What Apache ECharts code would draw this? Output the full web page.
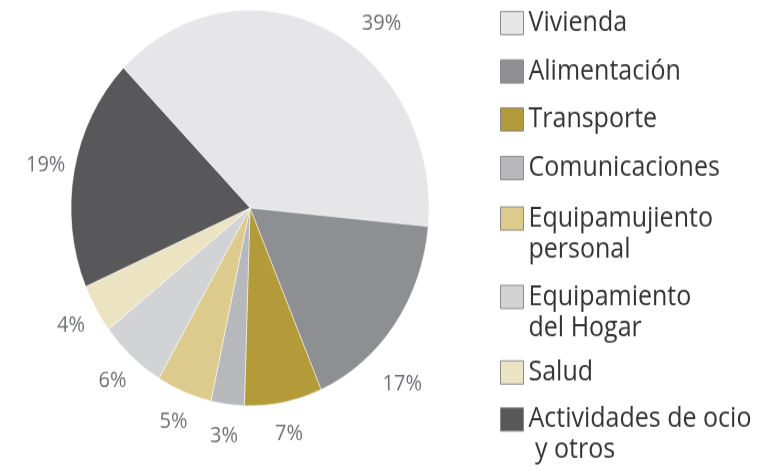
<!DOCTYPE html>
<html>
<head>
<meta charset="utf-8">
<script src="https://cdn.jsdelivr.net/npm/echarts@6/dist/echarts.min.js"></script>
<style>
  html, body { margin: 0; padding: 0; background: #fff; width: 776px; height: 470px; }
  #wrap { width: 776px; height: 470px; position: relative; overflow: hidden; }
  /* the printed chart is stretched vertically, so draw it flat and stretch it */
  #chart { position: absolute; left: 0; top: 0; width: 776px; height: 425px; transform: scaleY(1.10588); transform-origin: 0 0; }
</style>
</head>
<body>
<div id="wrap"><div id="chart"></div></div>
<script>
// gasto por categoría (%)
const categories = [
  'Vivienda',
  'Alimentación',
  'Transporte',
  'Comunicaciones',
  'Equipamujiento\npersonal',
  'Equipamiento\ndel Hogar',
  'Salud',
  'Actividades de ocio\n y otros'
];
const shares = [39, 17, 7, 3, 5, 6, 4, 19];
const colors = ['#e6e6e8', '#8e8f93', '#b39b3a', '#b7b8bc', '#dccb8c', '#d2d3d5', '#ece3c3', '#58585a'];

// legend: y of each icon centre (unscaled px)
const legendIconY = [20.8, 64.6, 108, 151.9, 197.6, 268.5, 336.8, 379.3];
const lineH = 28;
// the two big labels sit off the radial line in the print
const labelNudge = { 0: [43, 22], 1: [-16, 37] };

const chart = echarts.init(document.getElementById('chart'));

const legends = categories.map(function (name, i) {
  const lines = name.split('\n').length;
  const leg = {
    orient: 'vertical',
    left: 500,
    top: legendIconY[i] - lineH / 2,
    padding: 0,
    icon: 'rect',
    itemWidth: 23,
    itemHeight: 21,
    itemStyle: { borderColor: '#8a8a8a', borderWidth: 1 },
    data: [name],
    textStyle: { fontFamily: 'Open Sans', fontSize: 25, color: '#333', lineHeight: lineH }
  };
  if (lines > 1) {
    // empty first line so the icon lines up with the first text line
    leg.formatter = '\n{name}';
    leg.top = legendIconY[i] - lineH * (lines + 1) / 2;
  }
  return leg;
});

const pieData = categories.map(function (name, i) {
  return { name: name, value: shares[i], itemStyle: { color: colors[i] } };
});

chart.setOption({
  animation: false,
  legend: legends,
  series: [
    {
      type: 'pie',
      center: [250, 188],
      radius: 179,
      startAngle: 135,
      label: { show: false },
      labelLine: { show: false },
      itemStyle: { borderColor: '#fff', borderWidth: 0.5 },
      data: pieData
    },
    {
      // transparent ring that only carries the percentage labels
      type: 'pie',
      center: [250, 188],
      radius: [195, 215],
      startAngle: 135,
      silent: true,
      itemStyle: { color: 'rgba(0,0,0,0)' },
      label: {
        show: true,
        position: 'inside',
        formatter: '{c}%',
        fontFamily: 'Open Sans',
        fontSize: 20,
        color: '#6f7073'
      },
      labelLine: { show: false },
      labelLayout: function (params) {
        const n = labelNudge[params.dataIndex];
        return n ? { dx: n[0], dy: n[1] } : {};
      },
      data: categories.map(function (name, i) { return { name: name, value: shares[i] }; })
    }
  ]
});
</script>
</body>
</html>
